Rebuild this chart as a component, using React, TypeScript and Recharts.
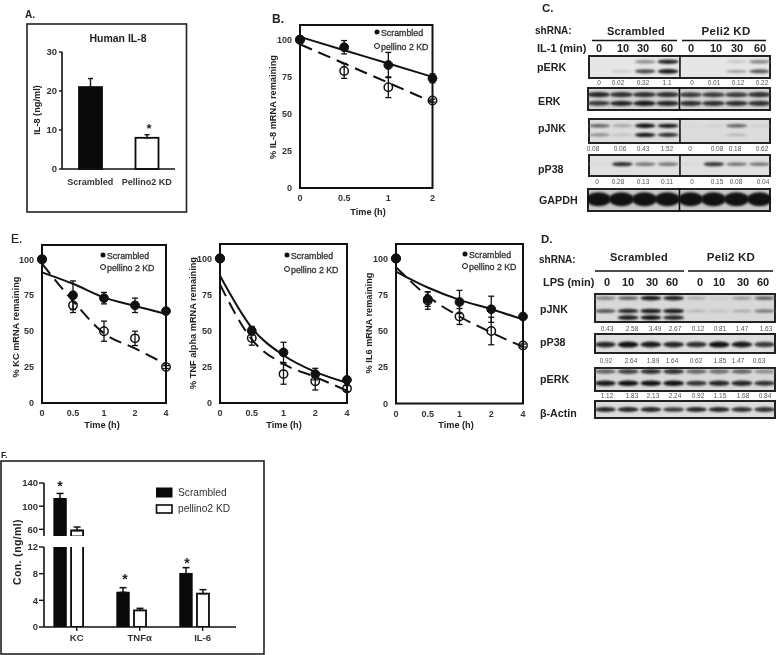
import React from "react";
import {
  BarChart, Bar, ComposedChart, Line, XAxis, YAxis, ErrorBar, ScatterChart, Scatter, ReferenceLine,
} from "recharts";

const SANS = "'Liberation Sans', Arial, sans-serif";
const INK = "#222";

// ---------- panel A
const aCategories = ["Scrambled", "Pellino2 KD"];
const aValues = [21, 8];
const aErrors = [2.2, 0.8];

// ---------- panel B
const bTicks = ["0", "0.5", "1", "2"];
const bScrambled = [100, 95, 83, 74];
const bScrambledErr = [2, 4.5, 8.5, 3];
const bPellino = [100, 79, 68, 59];
const bPellinoErr = [2, 5, 7, 1];
const bFitS = [102, 93, 84, 75];
const bFitP = [97, 84, 71, 58];

// ---------- panel E
const eTicks = ["0", "0.5", "1", "2", "4"];
const kcScrambled = [100, 75, 73, 68, 64];
const kcScrambledErr = [0, 10, 4, 5, 1];
const kcPellino = [100, 68, 50, 45, 25];
const kcPellinoErr = [0, 5, 7, 5, 1];
const kcFitS = [91, 83, 73.5, 67.5, 62];
const kcFitP = [97, 71, 48.5, 38, 27];

const tnfScrambled = [100, 50, 35, 20, 16];
const tnfScrambledErr = [0, 3, 7, 4, 2];
const tnfPellino = [100, 45, 20, 15, 10];
const tnfPellinoErr = [0, 5, 7, 6, 2];
const tnfFitS = [88, 52, 33, 21.5, 14];
const tnfFitP = [82, 44, 27, 18, 8.5];

const il6Scrambled = [100, 72, 70, 65, 60];
const il6ScrambledErr = [0, 5, 8, 9, 1];
const il6Pellino = [100, 71, 60, 50, 40];
const il6PellinoErr = [0, 6, 5.5, 9.5, 1];
const il6FitS = [91, 80, 71.5, 65, 58];
const il6FitP = [94, 74, 60, 49, 39];

// ---------- panel F
const fCategories = ["KC", "TNF\u03b1", "IL-6"];
const fScrambled = [113, 5.2, 8];
const fScrambledErr = [9, 0.7, 0.9];
const fPellino = [58, 2.5, 5];
const fPellinoErr = [6, 0.3, 0.6];

// ---------- blot densitometry labels
const cLabelsERK = ["0", "0.02", "0.32", "1.1", "0", "0.01", "0.12", "0.22"];
const cLabelsJNK = ["0.08", "0.06", "0.43", "1.52", "0", "0.08", "0.18", "0.62"];
const cLabelsP38 = ["0", "0.28", "0.13", "0.11", "0", "0.15", "0.08", "0.04"];
const dLabelsJNK = ["0.43", "2.58", "3.49", "2.67", "0.12", "0.81", "1.47", "1.63"];
const dLabelsP38 = ["0.92", "2.64", "1.89", "1.64", "0.62", "1.85", "1.47", "0.63"];
const dLabelsERK = ["1.12", "1.83", "2.13", "2.24", "0.92", "1.15", "1.68", "0.84"];
const times = ["0", "10", "30", "60", "0", "10", "30", "60"];

// ---------- blot band intensities: one list per band row, one value per lane
const cERK1 = [0, 0, 0.4, 0.9, 0, 0, 0.12, 0.45];
const cERK2 = [0, 0.1, 0.72, 0.95, 0, 0, 0.3, 0.65];
const cERKt1 = [0.9, 0.85, 0.85, 0.85, 0.8, 0.8, 0.8, 0.85];
const cERKt2 = [0.8, 0.9, 0.95, 0.9, 0.85, 0.85, 0.85, 0.85];
const cJNK1 = [0.6, 0.3, 1, 0.95, 0.03, 0.07, 0.6, 0.08];
const cJNK2 = [0.4, 0.15, 0.95, 0.85, 0, 0, 0.2, 0];
const cP38 = [0.03, 0.85, 0.5, 0.5, 0.04, 0.8, 0.5, 0.5];
const cGAPDH = [1, 1, 1, 1, 1, 1, 1, 1];
const dJNK1 = [0.45, 0.6, 0.95, 0.9, 0.25, 0.12, 0.35, 0.6];
const dJNK2 = [0.65, 0.9, 0.95, 0.95, 0.2, 0.15, 0.25, 0.5];
const dJNK3 = [0, 0.95, 1, 0.9, 0, 0, 0, 0];
const dP38 = [0.9, 1, 0.95, 0.9, 0.85, 1, 0.95, 0.8];
const dERK1 = [0.6, 0.75, 0.85, 0.85, 0.6, 0.55, 0.6, 0.4];
const dERK2 = [0.95, 1, 1, 1, 0.85, 0.9, 0.9, 0.85];
const dActin = [0.9, 0.9, 0.9, 0.8, 0.9, 0.9, 0.85, 0.85];

const Abs: React.FC<{ x: number; y: number; w: number; h: number; children: any; z?: number }> = ({ x, y, w, h, children, z }) => (
  <div style={{ position: "absolute", left: x, top: y, width: w, height: h, zIndex: z }}>{children}</div>
);

const axisTick = (size: number) => ({ fontFamily: SANS, fontSize: size, fontWeight: 700, fill: "#333" });

// ---------- decay plot
type DecayProps = {
  l: number; r: number; t: number; b: number; ticks: string[];
  s: number[]; sErr: number[]; p: number[]; pErr: number[]; fitS: number[]; fitP: number[];
};
const Decay: React.FC<DecayProps> = ({ l, r, t, b, ticks, s, sErr, p, pErr, fitS, fitP }) => {
  const data = ticks.map((tick, i) => ({
    pos: i, tick, s: s[i], sErr: sErr[i], p: p[i], pErr: pErr[i], fitS: fitS[i], fitP: fitP[i],
  }));
  const yw = 30, pad = 10, xh = 24;
  return (
    <Abs x={l - yw} y={t - pad} w={r - l + yw + pad} h={b - t + pad + xh}>
      <ComposedChart width={r - l + yw + pad} height={b - t + pad + xh} data={data} margin={{ top: pad, right: pad, left: 0, bottom: 0 }}>
        <XAxis dataKey="pos" type="number" domain={[0, ticks.length - 1]} ticks={ticks.map((_, i) => i)}
          tickFormatter={(v: number) => ticks[v]} axisLine={false} tickLine={false} tickSize={0} height={xh}
          tick={axisTick(9)} tickMargin={7} interval={0} />
        <YAxis type="number" domain={[0, 110]} ticks={[0, 25, 50, 75, 100]} width={yw} axisLine={false} tickLine={false} tickSize={0}
          tick={axisTick(9)} tickMargin={8} interval={0} />
        <Line dataKey="fitP" type="monotone" stroke="#111" strokeWidth={2} strokeDasharray="13 7" dot={false} isAnimationActive={false} />
        <Line dataKey="fitS" type="monotone" stroke="#111" strokeWidth={2} dot={false} isAnimationActive={false} />
        <Line dataKey="p" stroke="none" isAnimationActive={false}
          dot={{ r: 4.2, fill: "none", stroke: "#111", strokeWidth: 1.5 }}>
          <ErrorBar dataKey="pErr" width={3} stroke="#111" strokeWidth={1.3} direction="y" isAnimationActive={false} />
        </Line>
        <Line dataKey="s" stroke="none" isAnimationActive={false}
          dot={{ r: 4.4, fill: "#111", stroke: "#111", strokeWidth: 1 }}>
          <ErrorBar dataKey="sErr" width={3} stroke="#111" strokeWidth={1.3} direction="y" isAnimationActive={false} />
        </Line>
      </ComposedChart>
    </Abs>
  );
};

// ---------- blot panel
const Band = (props: any) => {
  const { cx, cy, payload, size } = props;
  const v = payload.v;
  if (!v) return null;
  const tone = Math.round(222 - 205 * v);
  return (
    <ellipse cx={cx} cy={cy} rx={size.rx} ry={size.ry * (0.55 + 0.45 * v)} fill={`rgb(${tone},${tone},${tone})`}
      style={{ filter: "blur(0.8px)" }} />
  );
};

type BlotProps = {
  x: number; y: number; w: number; h: number; bg: string;
  rows: { at: number; values: number[] }[];
  divider?: boolean; rx?: number; ry?: number;
};
const Blot: React.FC<BlotProps> = ({ x, y, w, h, bg, rows, divider, rx = 10.5, ry = 2.4 }) => (
  <Abs x={x} y={y} w={w} h={h}>
    <div style={{ position: "absolute", inset: 0, background: bg, border: `2px solid ${INK}`, boxSizing: "border-box" }} />
    <div style={{ position: "absolute", left: 0, top: 0 }}>
      <ScatterChart width={w} height={h} margin={{ top: 0, right: 0, left: 0, bottom: 0 }}>
        <XAxis type="number" dataKey="lane" domain={[0, 8]} hide />
        <YAxis type="number" dataKey="row" domain={[0, 1]} reversed hide />
        {rows.map((row, i) => (
          <Scatter key={i} data={row.values.map((v, lane) => ({ lane: lane + 0.5, row: row.at, v }))}
            isAnimationActive={false} shape={(p: any) => <Band {...p} size={{ rx, ry }} />} />
        ))}
        {divider && <ReferenceLine x={4.02} stroke="#111" strokeWidth={1.6} />}
      </ScatterChart>
    </div>
  </Abs>
);

// ---------- overlay text helpers
const T: React.FC<any> = ({ x, y, children, size = 10, bold = true, anchor = "start", rot, fill = "#222", sp, outline }) => (
  <text x={x} y={y} fontFamily={SANS} fontSize={size} fontWeight={bold ? 700 : 400} textAnchor={anchor} fill={fill}
    stroke={outline ? fill : undefined} strokeWidth={outline}
    letterSpacing={sp} transform={rot ? `rotate(${rot} ${x} ${y})` : undefined}>{children}</text>
);

const Quant: React.FC<{ xs: number[]; y: number; labels: string[] }> = ({ xs, y, labels }) => (
  <>{labels.map((s, i) => <T key={i} x={xs[i]} y={y} size={6.5} bold={false} anchor="middle" fill="#555">{s}</T>)}</>
);

const Legend2: React.FC<{ x: number; y1: number; y2: number }> = ({ x, y1, y2 }) => (
  <>
    <circle cx={x} cy={y1} r={2.5} fill="#111" />
    <T x={x + 4} y={y1 + 3.5} size={8.8} bold={false} outline={0.3} fill="#333">Scrambled</T>
    <circle cx={x} cy={y2} r={2.5} fill="none" stroke="#111" strokeWidth={1} />
    <T x={x + 4} y={y2 + 3.5} size={8.8} bold={false} outline={0.3} fill="#333">pellino 2 KD</T>
  </>
);

const cLaneX = [599, 623, 643, 667, 691, 716, 737, 760];
const dLaneX = [607, 628, 652, 672, 700, 719, 743, 763];

// ---------- bar F
const fData = fCategories.map((c, i) => ({
  pos: i, c, s: fScrambled[i], p: fPellino[i], sErr: [0, fScrambledErr[i]], pErr: [0, fPellinoErr[i]],
}));
const fUpperMin = 48;
const fUpperData = fData.map((d) => (d.s > fUpperMin ? d : { ...d, s: null, p: null, sErr: null, pErr: null }));

const aData = aCategories.map((c, i) => ({ c, v: aValues[i], e: [0, aErrors[i]] }));

const FChart: React.FC<{ top: number; h: number; domain: number[]; ticks: number[]; bottom: boolean }> = ({ top, h, domain, ticks, bottom }) => {
  const yw = 44, xh = bottom ? 22 : 0, pad = 10;
  return (
    <Abs x={0} y={top - pad} w={240} h={h + xh + pad}>
      <BarChart width={240} height={h + xh + pad} data={bottom ? fData : fUpperData} margin={{ top: pad, right: 4, left: 0, bottom: 0 }}
        barSize={12} barGap={5}>
        <XAxis dataKey="pos" type="number" domain={[-0.39, 2.66]} ticks={[0.13, 1.13, 2.13]} tickFormatter={(_: any, i: number) => fCategories[i]}
          hide={!bottom} axisLine={{ stroke: "#111", strokeWidth: 1.6 }}
          tickLine={{ stroke: "#111", strokeWidth: 1.4 }} tickSize={4} height={xh} interval={0}
          tick={axisTick(9.5)} tickMargin={3} />
        <YAxis type="number" domain={domain} ticks={ticks} allowDataOverflow width={yw} interval={0}
          axisLine={{ stroke: "#111", strokeWidth: 1.6 }} tickLine={{ stroke: "#111", strokeWidth: 1.4 }} tickSize={5}
          tick={axisTick(9.5)} tickMargin={1} />
        <Bar dataKey="s" fill="#0a0a0a" stroke="#0a0a0a" strokeWidth={1.4} isAnimationActive={false}>
          <ErrorBar dataKey="sErr" width={3.5} stroke="#111" strokeWidth={1.5} direction="y" isAnimationActive={false} />
        </Bar>
        <Bar dataKey="p" fill="#fff" stroke="#0a0a0a" strokeWidth={1.8} isAnimationActive={false}>
          <ErrorBar dataKey="pErr" width={3.5} stroke="#111" strokeWidth={1.5} direction="y" isAnimationActive={false} />
        </Bar>
      </BarChart>
    </Abs>
  );
};

export default function App() {
  return (
    <div style={{ position: "absolute", left: 0, top: 0, width: 778, height: 655, background: "#fff", overflow: "hidden", filter: "blur(0.35px)" }}>
      {/* A */}
      <Abs x={17} y={42} w={165} h={152}>
        <BarChart width={165} height={152} data={aData} margin={{ top: 10, right: 7, left: 0, bottom: 0 }} barSize={23} barCategoryGap={0}>
          <XAxis dataKey="c" axisLine={{ stroke: "#111", strokeWidth: 1.6 }} tickLine={false} height={25} interval={0}
            tick={axisTick(9)} tickMargin={4} />
          <YAxis type="number" domain={[0, 30]} ticks={[0, 10, 20, 30]} width={45} interval={0}
            axisLine={{ stroke: "#111", strokeWidth: 1.6 }} tickLine={{ stroke: "#111", strokeWidth: 1.4 }} tickSize={3}
            tick={axisTick(9.5)} tickMargin={2} />
          <Bar dataKey="v" isAnimationActive={false} fill="#fff" stroke="#0a0a0a" strokeWidth={1.8}
            shape={(p: any) => <rect x={p.x} y={p.y} width={p.width} height={p.height} fill={p.index === 0 ? "#0a0a0a" : "#fff"} stroke="#0a0a0a" strokeWidth={1.8} />}>
            <ErrorBar dataKey="e" width={2.5} stroke="#111" strokeWidth={1.4} direction="y" isAnimationActive={false} />
          </Bar>
        </BarChart>
      </Abs>

      <Decay l={300} r={432.5} t={25} b={188} ticks={bTicks} s={bScrambled} sErr={bScrambledErr} p={bPellino} pErr={bPellinoErr} fitS={bFitS} fitP={bFitP} />
      <Decay l={42} r={166} t={245} b={403} ticks={eTicks} s={kcScrambled} sErr={kcScrambledErr} p={kcPellino} pErr={kcPellinoErr} fitS={kcFitS} fitP={kcFitP} />
      <Decay l={220} r={347} t={244} b={403} ticks={eTicks} s={tnfScrambled} sErr={tnfScrambledErr} p={tnfPellino} pErr={tnfPellinoErr} fitS={tnfFitS} fitP={tnfFitP} />
      <Decay l={396} r={523} t={244} b={403.5} ticks={eTicks} s={il6Scrambled} sErr={il6ScrambledErr} p={il6Pellino} pErr={il6PellinoErr} fitS={il6FitS} fitP={il6FitP} />

      {/* F */}
      <FChart top={482.7} h={53.3} domain={[48, 140]} ticks={[60, 100, 140]} bottom={false} />
      <FChart top={546.7} h={80} domain={[0, 12]} ticks={[0, 4, 8, 12]} bottom={true} />

      {/* C blots */}
      <Blot x={588} y={55} w={183} h={24} bg="#e6e6e6" divider rows={[{ at: 0.28, values: cERK1 }, { at: 0.68, values: cERK2 }]} />
      <Blot x={587} y={87} w={184} h={24} bg="#d2d2d2" divider rows={[{ at: 0.32, values: cERKt1 }, { at: 0.68, values: cERKt2 }]} ry={2.8} rx={11.5} />
      <Blot x={588} y={118} w={183} h={26} bg="#dcdcdc" divider rows={[{ at: 0.3, values: cJNK1 }, { at: 0.65, values: cJNK2 }]} ry={2.2} />
      <Blot x={588} y={154} w={183} h={23} bg="#e0e0e0" divider rows={[{ at: 0.44, values: cP38 }]} ry={2.4} />
      <Blot x={587} y={188} w={184} h={24} bg="#c8c8c8" divider rows={[{ at: 0.47, values: cGAPDH }]} ry={7} rx={12.5} />

      {/* D blots */}
      <Blot x={594} y={293} w={182} h={30} bg="#d8d8d8" rows={[{ at: 0.17, values: dJNK1 }, { at: 0.6, values: dJNK2 }, { at: 0.82, values: dJNK3 }]} />
      <Blot x={594} y={333} w={182} h={21} bg="#dedede" rows={[{ at: 0.55, values: dP38 }]} ry={3} />
      <Blot x={594} y={367} w={182} h={25} bg="#d8d8d8" rows={[{ at: 0.18, values: dERK1 }, { at: 0.65, values: dERK2 }]} ry={2.8} />
      <Blot x={594} y={400} w={182} h={19} bg="#dcdcdc" rows={[{ at: 0.5, values: dActin }]} ry={2.6} />

      <svg width={778} height={655} style={{ position: "absolute", left: 0, top: 0, pointerEvents: "none" }}>
        {/* frames */}
        <rect x={27} y={24} width={159.5} height={188} fill="none" stroke="#222" strokeWidth={1.6} />
        <rect x={300} y={25} width={132.5} height={163} fill="none" stroke="#111" strokeWidth={2} />
        <rect x={42} y={245} width={124} height={158} fill="none" stroke="#111" strokeWidth={2} />
        <rect x={220} y={244} width={127} height={159} fill="none" stroke="#111" strokeWidth={2} />
        <rect x={396} y={244} width={127} height={159.5} fill="none" stroke="#111" strokeWidth={2} />
        <rect x={1} y={461} width={263} height={193} fill="none" stroke="#222" strokeWidth={1.6} />

        {/* panel letters */}
        <T x={25} y={18} size={10}>A.</T>
        <T x={272} y={23} size={12}>B.</T>
        <T x={542} y={12} size={11.5}>C.</T>
        <T x={541} y={243} size={11.5}>D.</T>
        <T x={11} y={243} size={12} bold={false} outline={0.2}>E.</T>
        <T x={1} y={458} size={8.5}>F.</T>

        {/* A */}
        <T x={118} y={42} size={10.5} anchor="middle">Human IL-8</T>
        <T x={40} y={110} size={9.2} anchor="middle" rot={-90}>IL-8 (ng/ml)</T>
        <T x={149} y={133} size={13} anchor="middle">*</T>

        {/* B + E */}
        <Legend2 x={377} y1={32} y2={46} />
        <T x={276} y={107} size={9.2} anchor="middle" rot={-90}>% IL-8 mRNA remaining</T>
        <T x={368} y={215} size={9.2} anchor="middle">Time (h)</T>

        <Legend2 x={103} y1={255} y2={267} />
        <T x={19} y={327} size={9.2} anchor="middle" rot={-90}>% KC mRNA remaining</T>
        <T x={102} y={428} size={9.2} anchor="middle">Time (h)</T>

        <Legend2 x={287} y1={255} y2={269} />
        <T x={196} y={323} size={9.2} anchor="middle" rot={-90}>% TNF alpha mRNA remaining</T>
        <T x={284} y={428} size={9.2} anchor="middle">Time (h)</T>

        <Legend2 x={465} y1={254} y2={266} />
        <T x={372} y={323} size={9.2} anchor="middle" rot={-90}>% IL6 mRNA remaining</T>
        <T x={456} y={428} size={9.2} anchor="middle">Time (h)</T>

        {/* F */}
        <T x={21} y={552} size={10.5} anchor="middle" rot={-90} sp={0.4}>Con. (ng/ml)</T>
        <T x={60} y={491} size={14} anchor="middle">*</T>
        <T x={125} y={584} size={14} anchor="middle">*</T>
        <T x={187} y={568} size={14} anchor="middle">*</T>
        <rect x={156.5} y={488} width={15.5} height={9} fill="#0a0a0a" stroke="#0a0a0a" />
        <rect x={156.5} y={505} width={15.5} height={8} fill="#fff" stroke="#0a0a0a" strokeWidth={1.6} />
        <T x={178} y={496} size={10.2} bold={false} fill="#333">Scrambled</T>
        <T x={178} y={512} size={10.2} bold={false} fill="#333">pellino2 KD</T>

        {/* C */}
        <T x={535} y={34} size={10}>shRNA:</T>
        <T x={636} y={35} size={11} anchor="middle" sp={0.2}>Scrambled</T>
        <T x={726} y={35} size={11.5} anchor="middle" sp={0.3}>Peli2 KD</T>
        <line x1={592} x2={677} y1={40.5} y2={40.5} stroke="#111" strokeWidth={1.4} />
        <line x1={682} x2={766} y1={40.5} y2={40.5} stroke="#111" strokeWidth={1.4} />
        <T x={537} y={52} size={11}>IL-1 (min)</T>
        {times.map((s, i) => <T key={i} x={cLaneX[i]} y={52} size={11} anchor="middle">{s}</T>)}
        <T x={537} y={71} size={10.7}>pERK</T>
        <T x={538} y={105} size={10.7}>ERK</T>
        <T x={538} y={132} size={10.7}>pJNK</T>
        <T x={538} y={173} size={10.7}>pP38</T>
        <T x={539} y={204} size={10.7}>GAPDH</T>
        <Quant y={85} labels={cLabelsERK} xs={[599, 618, 643, 667, 692, 714, 738, 762]} />
        <Quant y={151} labels={cLabelsJNK} xs={[593, 620, 643, 667, 690, 717, 735, 762]} />
        <Quant y={184} labels={cLabelsP38} xs={[597, 618, 643, 667, 692, 717, 736, 763]} />

        {/* D */}
        <T x={539} y={263} size={10}>shRNA:</T>
        <T x={639} y={261} size={11} anchor="middle" sp={0.2}>Scrambled</T>
        <T x={731} y={261} size={11.5} anchor="middle" sp={0.2}>Peli2 KD</T>
        <line x1={595} x2={684} y1={271} y2={271} stroke="#111" strokeWidth={1.4} />
        <line x1={688} x2={773} y1={271} y2={271} stroke="#111" strokeWidth={1.4} />
        <T x={543} y={286} size={11}>LPS (min)</T>
        {times.map((s, i) => <T key={i} x={dLaneX[i]} y={286} size={11} anchor="middle">{s}</T>)}
        <T x={540} y={313} size={10.7}>pJNK</T>
        <T x={540} y={346} size={10.7}>pP38</T>
        <T x={540} y={383} size={10.7}>pERK</T>
        <T x={540} y={417} size={10.7}>β-Actin</T>
        <Quant y={331} labels={dLabelsJNK} xs={[607, 632, 655, 675, 698, 720, 742, 766]} />
        <Quant y={363} labels={dLabelsP38} xs={[606, 631, 653, 672, 696, 720, 738, 759]} />
        <Quant y={398} labels={dLabelsERK} xs={[607, 632, 653, 675, 698, 720, 743, 765]} />
      </svg>
    </div>
  );
}
